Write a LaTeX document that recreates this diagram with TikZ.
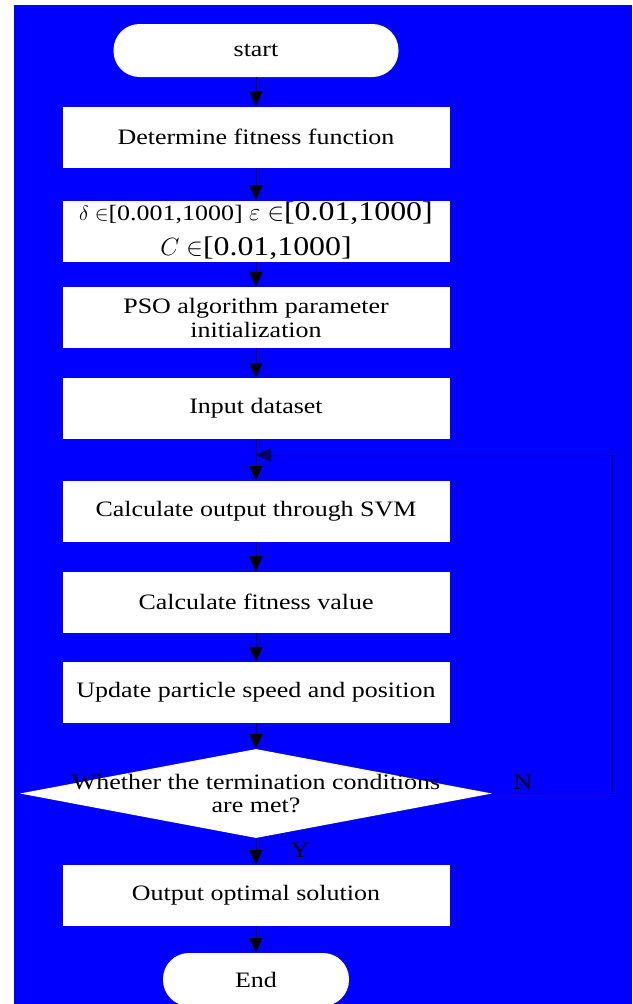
\documentclass[tikz,border=0pt]{standalone}
\usepackage{fontspec}
\setmainfont{Liberation Serif}[FakeStretch=1.18]
\usetikzlibrary{positioning, calc, arrows.meta, shapes.geometric}

\tikzset{
  procbox/.style={fill=white, minimum width=387pt, minimum height=61pt, inner sep=0pt,
    font=\fontsize{22}{24}\selectfont, align=center},
  termbox/.style={fill=white, rounded corners=26pt, minimum height=53pt, inner sep=0pt,
    font=\fontsize{22}{24}\selectfont},
  flow/.style={-{Triangle[length=15pt,width=13pt]}, line width=0.8pt, black},
  backflow/.style={flow, draw=blue!35!black},
}

\begin{document}
\begin{tikzpicture}[x=1pt, y=-1pt]
    % Canvas
    \useasboundingbox (0,0) rectangle (632,1004);
    \fill[white] (0,0) rectangle (632,1004);
    \fill[blue] (14,5) rectangle (632,1004);

    % Steps
    \node[termbox, minimum width=285pt] (start) at (256,50.5) {start};
    \node[procbox] (fitfun) at (256,137) {Determine fitness function};
    \node[procbox] (range) at (256,231) {$\delta\in$[0.001,1000] {\fontsize{27}{30}\selectfont$\varepsilon\in$[0.01,1000]}\\[11pt]
      {\fontsize{27}{30}\selectfont$C\in$[0.01,1000]}};
    \node[procbox] (psoinit) at (256,317.5) {PSO algorithm parameter\\initialization};
    \node[procbox] (data) at (256,408.5) {Input dataset};
    \node[procbox] (svm) at (256,511.5) {Calculate output through SVM};
    \node[procbox] (fitval) at (256,602) {Calculate fitness value};
    \node[procbox] (update) at (256,692.5) {Update particle speed and position};

    % Decision
    \node[diamond, fill=white, minimum width=472pt, minimum height=89pt, inner sep=0pt] (check) at (256,793.5) {};
    \node[font=\fontsize{22}{23}\selectfont, align=center] (checktxt) at (check.center) {Whether the termination conditions\\are met?};

    \node[procbox] (best) at (256,895.5) {Output optimal solution};
    \node[termbox, minimum width=186pt] (finish) at (256,979.5) {End};

    % Connectors
    \draw[flow] (start) -- (fitfun);
    \draw[flow] (fitfun) -- (range);
    \draw[flow] (range) -- (psoinit);
    \draw[flow] (psoinit) -- (data);
    \draw[flow] (data) -- (svm);
    \draw[flow] (svm) -- (fitval);
    \draw[flow] (fitval) -- (update);
    \draw[flow] (update) -- (check);
    \draw[flow] (check) -- (best);
    \draw[flow] (best) -- (finish);

    % Loop back
    \coordinate (loopin) at (256,455);
    \draw[backflow] (check.east) -- ++(120,0) |- (loopin);

    % Branch labels
    \node[font=\fontsize{22}{24}\selectfont] (nlab) at (523,782) {N};
    \node[font=\fontsize{22}{24}\selectfont] (ylab) at (300,850) {Y};
\end{tikzpicture}
\end{document}
